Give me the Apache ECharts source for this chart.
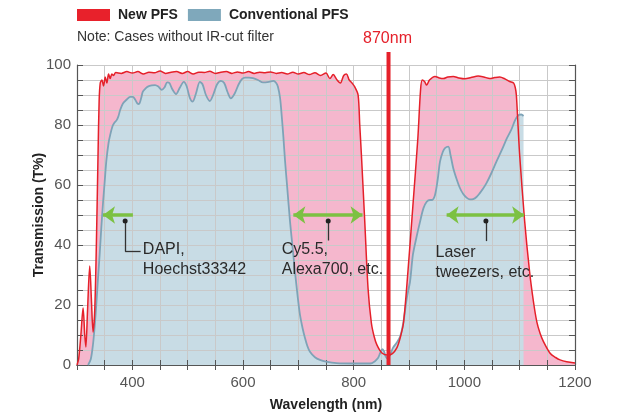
<!DOCTYPE html>
<html>
<head>
<meta charset="utf-8">
<script src="https://cdn.jsdelivr.net/npm/echarts@6/dist/echarts.min.js"></script>
<style>
html,body{margin:0;padding:0;background:#fff;}
#c{width:617px;height:413px;}
</style>
</head>
<body>
<div id="c"></div>
<script>
// ---- data (wavelength nm, transmission %) ----
const newPFS = [[300,0],[303,2],[307,10],[311,19],[314,10],[316,6],[319,18],[323,33],[326,22],[329,11],[332,18],[335,40],[338,70],[340,88],[342,94],[345,95],[348,93],[351,96],[354,94],[357,97],[360,95.5],[363,97],[366,96.5],[370,97.5],[380,97.2],[390,97.8],[400,97.3],[410,97.8],[420,97],[430,97.6],[440,97.4],[450,98],[460,97.2],[470,97.6],[480,97.8],[490,97.2],[500,97.8],[510,97],[520,97.6],[530,97.5],[540,97.9],[550,97.2],[560,97.6],[570,97.8],[580,97.2],[590,97.7],[600,97.3],[610,97.8],[620,97.2],[630,97.6],[640,97.4],[650,97.7],[660,97.2],[670,97.5],[680,97],[690,97.6],[700,97],[710,97.5],[720,96.8],[730,97.4],[740,96.5],[750,97.3],[757,95.5],[763,96.8],[770,95],[776,94],[782,96.5],[787,97],[792,95],[797,94],[802,92.7],[808,90],[811,80],[814,70],[820,48],[826,25.5],[832,14],[837,9.5],[842,6.7],[851,4],[862,3.3],[870,3.8],[878,5.7],[884,9],[890,14],[898,31],[907,53],[916,75.6],[921,92],[924,95],[928,94.5],[932,93.3],[937,95],[947,96.2],[955,95.7],[962,95.5],[970,96],[980,96.2],[990,95.7],[1001,95.4],[1012,95.8],[1025,96.3],[1035,96],[1046,95.5],[1055,95.8],[1064,96],[1074,95.3],[1082,94.5],[1089,94],[1092,92.5],[1094,90],[1097,80],[1100,70],[1109,48],[1118,31],[1125,21],[1131,14.4],[1137,10.5],[1143,7.8],[1155,3.9],[1165,2.5],[1173,1.7],[1185,1.1],[1200,0.7]];

const conventionalPFS = [[320,0],[325,2],[329,7],[332,13],[335,20.6],[338,29],[341,37],[344,46],[347,54],[350,61],[353,68],[357,74],[360,76.7],[364,79.5],[367,80.6],[372,81.7],[375,83],[378,85],[383,87.2],[390,88.5],[396,89.4],[401,89.4],[405,88.5],[409,87.2],[412,87],[416,89],[419,91.1],[424,92.2],[428,92.8],[435,93.2],[441,93.3],[447,92.8],[453,91.7],[458,92.5],[463,94.2],[467,94],[472,92],[479,90.3],[486,92.5],[493,94.4],[498,93],[504,89],[509,87.8],[515,90.5],[522,94.4],[527,93.5],[533,90],[540,88],[546,90],[553,93.5],[560,94.7],[566,94],[572,91],[578,88.9],[585,90.5],[592,93.5],[598,95.3],[604,95.8],[611,95.8],[618,95.6],[627,95],[636,94.2],[647,94.4],[655,94.7],[660,94],[663,92.8],[667,89],[670,83],[673,76],[676,68],[680,59],[685,47.8],[690,38.5],[694,31],[699,22.5],[703,16.7],[708,12],[712,9],[716,6.5],[721,4.4],[730,2.6],[739,1.7],[750,1.1],[769,0.6],[800,0.5],[830,0.5],[838,1.2],[844,2.3],[848,4],[852,5.3],[855,4.5],[858,2.8],[861,2.2],[866,3.5],[871,5.7],[878,7.5],[884,9.5],[890,14.4],[896,22.3],[902,28],[907,36.7],[914,43],[920,47.8],[926,52.2],[932,54.4],[938,55],[941,55],[947,56.7],[952,62],[956,67.8],[961,71],[965,72.3],[971,72.8],[975,70],[980,65.6],[986,62],[992,59],[998,57],[1004,55.8],[1010,55.2],[1016,55.3],[1022,56],[1028,57.3],[1034,58.8],[1040,60.6],[1049,64],[1058,67.8],[1068,71.8],[1077,75.6],[1085,78.5],[1092,81.7],[1098,83.3],[1103,83.5],[1107,83]];

const seriesNames = ['New PFS', 'Conventional PFS'];
const noteText = 'Note: Cases without IR-cut filter';
const markerWavelength = 863;      // drawn position of the 870 nm marker line
const markerLabel = '870nm';
// annotation arrows: [fromX, toX, y]
const arrowDAPI = [401, 347, 50];
const arrowCy = [691, 816, 50];
const arrowLaser = [968, 1108, 50];
const dots = [[387, 48], [754, 48], [1039, 48]];
const labelDAPI = 'DAPI,\nHoechst33342';
const labelCy = 'Cy5.5,\nAlexa700, etc.';
const labelLaser = 'Laser\ntweezers, etc.';

const RED = '#e5202a', PINK = '#f5b7cd', BLUE_FILL = '#c8dce5', BLUE_LINE = '#7ea3b7', GREEN = '#7cc142';
const SANS = '"Liberation Sans",Arial,sans-serif';

const chart = echarts.init(document.getElementById('c'), null, {renderer: 'canvas'});

const leader = {lineStyle: {color: '#333', width: 1.3, type: 'solid'}};
const arrowStyle = {lineStyle: {color: GREEN, width: 3.5, type: 'solid'}};
const annoLabel = {show: true, position: 'right', distance: 0, fontFamily: SANS, fontSize: 16, lineHeight: 20, color: '#2a2a2a', align: 'left'};

const option = {
  animation: false,
  backgroundColor: '#fff',
  grid: {left: 77, right: 42, top: 65, bottom: 48, outerBoundsMode: 'none', containLabel: false},
  legend: {
    left: 72, top: 3, itemWidth: 33, itemHeight: 12, itemGap: 10,
    icon: 'rect',
    selectedMode: false,
    itemStyle: {borderWidth: 0},
    textStyle: {fontFamily: SANS, fontWeight: 'bold', fontSize: 14, color: '#222', padding: [0, 0, 0, 3]},
    data: [
      {name: seriesNames[0], itemStyle: {color: '#e8212b'}},
      {name: seriesNames[1], itemStyle: {color: '#7fa8bb'}}
    ]
  },
  xAxis: [{
    type: 'value', min: 300, max: 1200, interval: 50, z: 3,
    name: 'Wavelength (nm)', nameLocation: 'middle', nameGap: 33, nameMoveOverlap: false,
    nameTextStyle: {fontFamily: SANS, fontWeight: 'bold', fontSize: 14, color: '#222'},
    axisLine: {show: true, lineStyle: {color: '#555', width: 1.2}},
    axisTick: {show: true, inside: true, length: 5, lineStyle: {color: '#555'}},
    axisLabel: {fontFamily: SANS, fontSize: 15, color: '#555', margin: 10,
      formatter: v => (v % 200 === 0 ? String(v) : '')},
    splitLine: {show: true, lineStyle: {color: '#c9c9c9', width: 1}}
  }, {
    type: 'value', min: 300, max: 1200, interval: 50, position: 'top', z: 5,
    axisLine: {show: true, lineStyle: {color: '#555', width: 1.2}},
    axisTick: {show: true, inside: true, length: 5, lineStyle: {color: '#555'}},
    axisLabel: {show: false}, splitLine: {show: false}
  }],
  yAxis: [{
    type: 'value', min: 0, max: 100, interval: 5, z: 3,
    name: 'Transmission (T%)', nameLocation: 'middle', nameGap: 31, nameMoveOverlap: false,
    nameTextStyle: {fontFamily: SANS, fontWeight: 'bold', fontSize: 14, color: '#222'},
    axisLine: {show: true, lineStyle: {color: '#555', width: 1.2}},
    axisTick: {show: true, inside: true, length: 6, lineStyle: {color: '#555'}},
    axisLabel: {fontFamily: SANS, fontSize: 15, color: '#555', margin: 6,
      formatter: v => (v % 20 === 0 ? String(v) : '')},
    splitLine: {show: true, lineStyle: {color: '#c9c9c9', width: 1}}
  }, {
    type: 'value', min: 0, max: 100, interval: 5, position: 'right', z: 5,
    axisLine: {show: true, lineStyle: {color: '#555', width: 1.2}},
    axisTick: {show: true, inside: true, length: 6, lineStyle: {color: '#555'}},
    axisLabel: {show: false}, splitLine: {show: false}
  }],
  series: [
    {
      name: seriesNames[0], type: 'line', data: newPFS, z: 1,
      showSymbol: false, smooth: 0.3,
      itemStyle: {color: RED},
      lineStyle: {width: 0, opacity: 0},
      areaStyle: {color: PINK, opacity: 1}
    },
    {
      name: seriesNames[1], type: 'line', data: conventionalPFS, z: 2,
      showSymbol: false, smooth: 0.3,
      itemStyle: {color: BLUE_LINE},
      lineStyle: {width: 0, opacity: 0},
      areaStyle: {color: BLUE_FILL, opacity: 1}
    },
    {
      name: 'conventionalLine', type: 'line', data: conventionalPFS, z: 6,
      showSymbol: false, smooth: 0.3,
      lineStyle: {color: BLUE_LINE, width: 1.8}
    },
    {
      name: 'newLine', type: 'line', data: newPFS, z: 7,
      showSymbol: false, smooth: 0.3,
      lineStyle: {color: RED, width: 1.5}
    },
    {
      name: 'annotations', type: 'line', data: [], z: 10,
      showSymbol: false,
      markLine: {
        silent: true, animation: false, z: 12,
        label: {show: false},
        data: [
          [{coord: [arrowDAPI[0], arrowDAPI[2]], symbol: 'none', ...arrowStyle}, {coord: [arrowDAPI[1], arrowDAPI[2]], symbol: 'arrow', symbolSize: [13, 12]}],
          [{coord: [arrowCy[0], arrowCy[2]], symbol: 'arrow', symbolSize: [13, 12], ...arrowStyle}, {coord: [arrowCy[1], arrowCy[2]], symbol: 'arrow', symbolSize: [13, 12]}],
          [{coord: [arrowLaser[0], arrowLaser[2]], symbol: 'arrow', symbolSize: [13, 12], ...arrowStyle}, {coord: [arrowLaser[1], arrowLaser[2]], symbol: 'arrow', symbolSize: [13, 12]}],
          [{coord: [dots[0][0], dots[0][1]], symbol: 'none', ...leader}, {coord: [dots[0][0], 37.8], symbol: 'none'}],
          [{coord: [dots[0][0], 37.8], symbol: 'none', ...leader}, {coord: [415, 37.8], symbol: 'none'}],
          [{coord: [dots[1][0], dots[1][1]], symbol: 'none', ...leader}, {coord: [dots[1][0], 41.5], symbol: 'none'}],
          [{coord: [dots[2][0], dots[2][1]], symbol: 'none', ...leader}, {coord: [dots[2][0], 41.3], symbol: 'none'}]
        ]
      },
      markPoint: {
        silent: true, animation: false, z: 14,
        data: [
          ...dots.map(d => ({coord: d, symbol: 'circle', symbolSize: 5, itemStyle: {color: '#222'}, label: {show: false}})),
          {coord: [419, 35], symbol: 'circle', symbolSize: 0, label: {...annoLabel, formatter: labelDAPI}},
          {coord: [670, 35], symbol: 'circle', symbolSize: 0, label: {...annoLabel, formatter: labelCy}},
          {coord: [948, 34.3], symbol: 'circle', symbolSize: 0, label: {...annoLabel, formatter: labelLaser}}
        ]
      }
    }
  ]
};

chart.setOption(option);

// 870 nm marker line, extending above the plot area, placed through the axis scale
const pBottom = chart.convertToPixel({xAxisIndex: 0, yAxisIndex: 0}, [markerWavelength, 0]);
const pTop = chart.convertToPixel({xAxisIndex: 0, yAxisIndex: 0}, [markerWavelength, 100]);
chart.setOption({
  graphic: [
    {type: 'text', left: 77, top: 30, z: 10, style: {text: noteText, font: '14px ' + SANS, fill: '#333'}},
    {type: 'line', z: 20, shape: {x1: pBottom[0], y1: pBottom[1], x2: pTop[0], y2: pTop[1] - 13},
     style: {stroke: RED, lineWidth: 4}},
    {type: 'text', z: 20, x: pTop[0] - 1, y: pTop[1] - 26,
     style: {text: markerLabel, font: '16px ' + SANS, fill: RED, align: 'center', verticalAlign: 'middle'}}
  ]
});
</script>
</body>
</html>
